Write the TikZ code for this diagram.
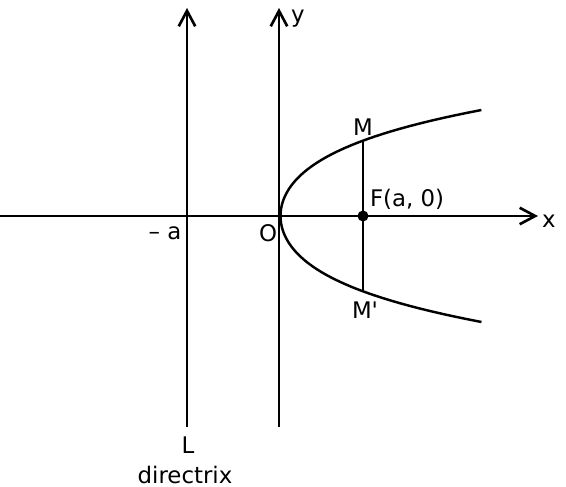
\documentclass[tikz,border=0pt]{standalone}
\usepackage{fontspec}
\setsansfont{DejaVu Sans}
\usetikzlibrary{arrows.meta, calc}

\begin{document}
\begin{tikzpicture}[>={Straight Barb[length=3.1mm, width=3.3mm]}, line width=1.5pt,
  lbl/.style={font=\sffamily\fontsize{13}{15}\selectfont, inner sep=1pt}]
  \useasboundingbox (-5.58,-5.42) rectangle (5.74,4.32);
  \coordinate (O) at (0,0);
  \coordinate (F) at (1.68,0);
  \coordinate (xl) at (-5.58,0);
  \coordinate (xr) at (5.18,0);
  \coordinate (yb) at (0,-4.22);
  \coordinate (yt) at (0,4.16);
  \coordinate (Lb) at (-1.84,-4.22);
  \coordinate (Lt) at (-1.84,4.16);
  \coordinate (M) at (1.68,1.51);
  \coordinate (Mp) at (1.68,-1.51);
  % ejes y directriz
  \draw[->] (xl)--(xr);
  \draw[->] (yb)--(yt);
  \draw[->] (Lb)--(Lt);
  % parabola
  \draw[line width=1.4pt] plot[domain=-2.12:2.12, samples=80, variable=\t]
    ({0.03+0.556*\t*\t+0.0753*\t*\t*\t*\t},\t);
  % cuerda focal
  \draw (M)--(Mp);
  \fill (F) circle (0.11);
  % etiquetas
  \node[lbl] at (5.4,-0.1) {x};
  \node[lbl] at (0.38,3.94) {y};
  \node[lbl] at (1.68,1.78) {M};
  \node[lbl] at (1.72,-1.88) {M\textquotesingle};
  \node[lbl, anchor=base west] at (1.76,0.18) {F(a, 0)};
  \node[lbl] at (-2.28,-0.34) {– a};
  \node[lbl] at (-0.22,-0.34) {O};
  \node[lbl] at (-1.82,-4.58) {L};
  \node[lbl] at (-1.88,-5.18) {directrix};
\end{tikzpicture}
\end{document}
